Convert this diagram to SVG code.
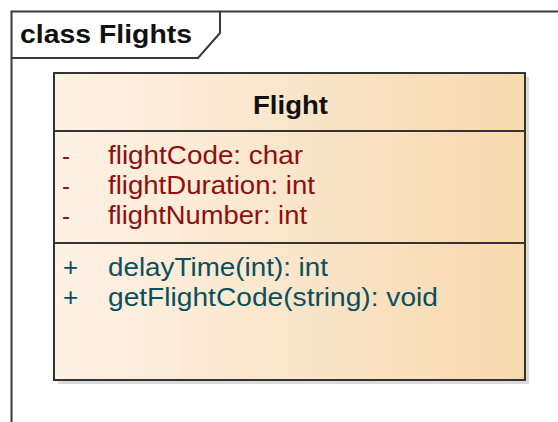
<svg xmlns="http://www.w3.org/2000/svg" width="558" height="422" viewBox="0 0 558 422">
  <defs>
    <linearGradient id="classFill" x1="0" y1="0" x2="1" y2="0">
      <stop offset="0" stop-color="#fdf2e6"/>
      <stop offset="1" stop-color="#f7d9ae"/>
    </linearGradient>
    <style>
      .frame { fill: none; stroke: #3a3a3a; stroke-width: 2; }
      .box { fill: url(#classFill); stroke: #333333; stroke-width: 2; }
      .shadow { fill: #dadada; }
      .sep { stroke: #333333; stroke-width: 1.8; }
      .title { font-family: "Liberation Sans", Arial, sans-serif; font-weight: bold; fill: #111111; }
      .attr { font-family: "Liberation Sans", Arial, sans-serif; font-size: 26px; fill: #8e0f0f; }
      .oper { font-family: "Liberation Sans", Arial, sans-serif; font-size: 26px; fill: #0c4f5c; }
      .mark { font-size: 24px; }
    </style>
  </defs>

  <rect width="558" height="422" fill="#ffffff"/>

  <!-- package frame with name tab -->
  <g id="frame">
    <path class="frame" d="M11.5,422 V11.5 H558"/>
    <path class="frame" d="M220,11.5 V33 L198,58 H11.5"/>
    <text class="title" x="20" y="43" font-size="26" textLength="172" lengthAdjust="spacingAndGlyphs">class Flights</text>
  </g>

  <!-- connectors (none in this diagram) -->
  <g id="connectors"/>

  <!-- class Flight -->
  <g id="Flight">
    <rect class="shadow" x="58" y="77" width="471" height="307"/>
    <rect class="box" x="54" y="73" width="471" height="307"/>
    <line class="sep" x1="54" y1="131" x2="525" y2="131"/>
    <line class="sep" x1="54" y1="243" x2="525" y2="243"/>
    <text class="title" x="253" y="114" font-size="26" textLength="75" lengthAdjust="spacingAndGlyphs">Flight</text>

    <text class="attr mark" x="62" y="164">-</text>
    <text class="attr" x="108" y="164" textLength="195" lengthAdjust="spacingAndGlyphs">flightCode: char</text>
    <text class="attr mark" x="62" y="194">-</text>
    <text class="attr" x="108" y="194" textLength="207" lengthAdjust="spacingAndGlyphs">flightDuration: int</text>
    <text class="attr mark" x="62" y="224">-</text>
    <text class="attr" x="108" y="224" textLength="199" lengthAdjust="spacingAndGlyphs">flightNumber: int</text>

    <text class="oper" x="63" y="276">+</text>
    <text class="oper" x="108" y="276" textLength="220" lengthAdjust="spacingAndGlyphs">delayTime(int): int</text>
    <text class="oper" x="63" y="306">+</text>
    <text class="oper" x="108" y="306" textLength="330" lengthAdjust="spacingAndGlyphs">getFlightCode(string): void</text>
  </g>
</svg>
